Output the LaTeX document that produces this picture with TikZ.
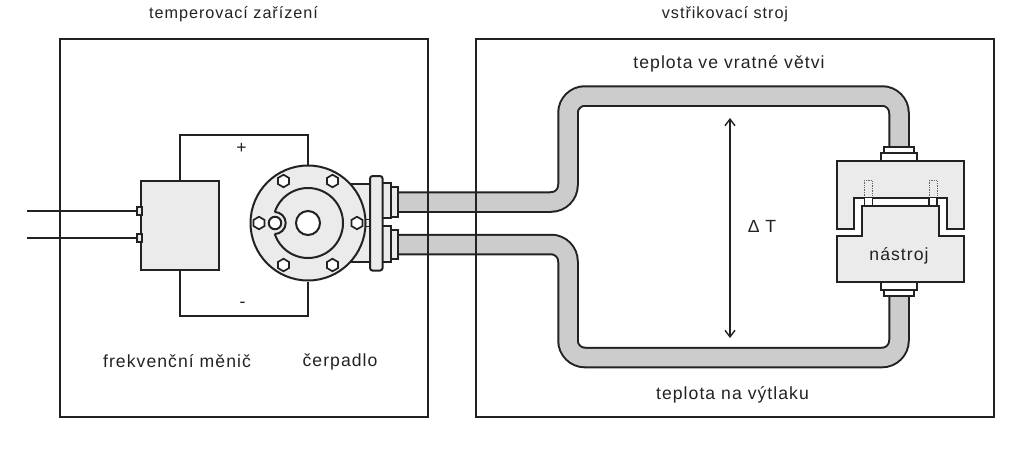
\documentclass[tikz,border=0pt]{standalone}
\usepackage{fontspec}
\setmainfont[LetterSpace=6]{Liberation Sans}
\usepackage{tikz}
\usetikzlibrary{arrows.meta}
\usetikzlibrary{shapes.geometric}
\usepackage{xcolor}
\definecolor{ColLine}{RGB}{34,34,34}
\definecolor{ColPart}{RGB}{235,235,235}
\definecolor{ColPipe}{RGB}{204,204,204}
\tikzstyle{FrameBox}=[rectangle,draw=ColLine,line width=2pt,inner sep=0pt]
\tikzstyle{PartBox}=[rectangle,draw=ColLine,fill=ColPart,line width=2pt,inner sep=0pt]
\tikzstyle{WhiteBox}=[rectangle,draw=ColLine,fill=white,line width=1.8pt,inner sep=0pt]
\tikzstyle{NutGraph}=[regular polygon,regular polygon sides=6,shape border rotate=30,draw=ColLine,fill=white,line width=1.7pt,inner sep=0pt,minimum size=12.5pt]
\tikzstyle{HoleGraph}=[circle,draw=ColLine,fill=white,line width=2pt,inner sep=0pt]
\tikzstyle{WireEdge}=[ColLine,line width=2pt]
\tikzstyle{LeadEdge}=[ColLine,line width=1.4pt]
\tikzstyle{PipeEdge}=[draw=ColLine,line width=2pt,double=ColPipe,double distance=17.5pt,rounded corners=17pt]
\tikzstyle{PartPath}=[draw=ColLine,fill=ColPart,line width=2pt]
\tikzstyle{TitleText}=[font=\fontsize{16.2}{19}\selectfont,text=ColLine,inner sep=0pt]
\tikzstyle{LabelText}=[font=\fontsize{17.6}{21}\selectfont,text=ColLine,inner sep=0pt]
\begin{document}
\begin{tikzpicture}[x=1pt,y=-1pt]
        \useasboundingbox(0,0)rectangle(1032,452);
        \coordinate(UpperStart)at(397,202);
        \coordinate(UpperA)at(568,202);
        \coordinate(UpperB)at(568,96);
        \coordinate(UpperC)at(899,96);
        \coordinate(UpperEnd)at(899,148);
        \coordinate(LowerStart)at(397,244.5);
        \coordinate(LowerA)at(568,244.5);
        \coordinate(LowerB)at(568,357.5);
        \coordinate(LowerC)at(899,357.5);
        \coordinate(LowerEnd)at(899,295);
        \draw[PipeEdge](UpperStart)--(UpperA)--(UpperB)--(UpperC)--(UpperEnd);
        \draw[PipeEdge](LowerStart)--(LowerA)--(LowerB)--(LowerC)--(LowerEnd);
        \node[FrameBox,minimum width=368pt,minimum height=378pt](TempFrame)at(244,228){};
        \node[FrameBox,minimum width=518pt,minimum height=378pt](MachineFrame)at(735,228){};
        \node[PartBox,minimum width=78pt,minimum height=89pt](Converter)at(180.2,225.5){};
        \node[WhiteBox,fill=ColPart,minimum width=4.5pt,minimum height=8pt](TermA)at(139.5,211){};
        \node[WhiteBox,fill=ColPart,minimum width=4.5pt,minimum height=8pt](TermB)at(139.5,238){};
        \coordinate(LeadA)at(27,211);
        \coordinate(LeadB)at(27,238);
        \draw[LeadEdge](LeadA)--(TermA);
        \draw[LeadEdge](LeadB)--(TermB);
        \node[PartBox,minimum width=40pt,minimum height=78.5pt](Housing)at(352,223){};
        \node[WhiteBox,fill=ColPart,minimum width=5pt,minimum height=7pt](Link)at(368,223){};
        \node[PartBox,circle,minimum size=115pt](Pump)at(308,223){};
        \coordinate(CornerTop)at(308,135);
        \coordinate(CornerBottom)at(308,315.5);
        \draw[WireEdge](Converter.north)|-(CornerTop)--(Pump.north);
        \draw[WireEdge](Converter.south)|-(CornerBottom)--(Pump.south);
        \draw[WireEdge]([shift={(-162:35)}]308,223)arc[start angle=-162,end angle=162,radius=35];
        \draw[WireEdge](274.7,212)arc[start angle=-90,end angle=90,radius=11];
        \node[HoleGraph,minimum size=24pt](Shaft)at(308,223){};
        \node[HoleGraph,minimum size=12.5pt](Bypass)at(275,223){};
        \node[NutGraph](NutA)at(357,223){};
        \node[NutGraph](NutB)at(332.5,181){};
        \node[NutGraph](NutC)at(283.5,181){};
        \node[NutGraph](NutD)at(259,223){};
        \node[NutGraph](NutE)at(283.5,265){};
        \node[NutGraph](NutF)at(332.5,265){};
        \node[PartBox,minimum width=7pt,minimum height=29.5pt](NeckA)at(394,202){};
        \node[PartBox,minimum width=7pt,minimum height=29.5pt](NeckB)at(394,244.5){};
        \node[PartBox,minimum width=8.5pt,minimum height=35pt](CollarA)at(386.5,200.5){};
        \node[PartBox,minimum width=8.5pt,minimum height=36pt](CollarB)at(386.5,244){};
        \node[PartBox,rounded corners=2.5pt,minimum width=12.5pt,minimum height=94.5pt](Flange)at(376.3,223.3){};
        \draw[PartPath](836.7,161)--(964,161)--(964,229.3)--(946.7,229.3)--(946.7,197.7)--(854,197.7)--(854,229.3)--(836.7,229.3)--cycle;
        \draw[PartPath](837,236)--(861.7,236)--(861.7,205.7)--(939,205.7)--(939,236)--(964,236)--(964,281.7)--(837,281.7)--cycle;
        \draw[ColLine!70,line width=.7pt,densely dotted](864.3,197.7)--(864.3,180.7)--(872.3,180.7)--(872.3,197.7);
        \draw[ColLine!70,line width=.7pt,densely dotted](929,197.7)--(929,180.7)--(937,180.7)--(937,197.7);
        \node[WhiteBox,line width=1.5pt,minimum width=8pt,minimum height=8pt](PinA)at(868.3,201.7){};
        \node[WhiteBox,line width=1.5pt,minimum width=8pt,minimum height=8pt](PinB)at(933,201.7){};
        \node[WhiteBox,minimum width=36pt,minimum height=7.7pt](SeatA)at(899,157.2){};
        \node[WhiteBox,minimum width=29.7pt,minimum height=6pt](CapA)at(899,150.3){};
        \node[WhiteBox,minimum width=36pt,minimum height=8.3pt](SeatB)at(899,285.9){};
        \node[WhiteBox,minimum width=29.7pt,minimum height=5.7pt](CapB)at(899,292.9){};
        \coordinate(DeltaTop)at(730,118);
        \coordinate(DeltaBottom)at(730,338);
        \draw[LeadEdge,{Straight Barb[length=6.5pt,width=10pt]}-{Straight Barb[length=6.5pt,width=10pt]}](DeltaTop)--(DeltaBottom);
        \node[TitleText](TempLabel)at(233.5,14){temperovací zařízení};
        \node[TitleText](MachineLabel)at(725,14){vstřikovací stroj};
        \node[LabelText](ReturnLabel)at(729,63.5){teplota ve vratné větvi};
        \node[LabelText](SupplyLabel)at(732.5,394.5){teplota na výtlaku};
        \node[LabelText](ConverterLabel)at(177,361){frekvenční měnič};
        \node[LabelText](PumpLabel)at(340,361.5){čerpadlo};
        \node[LabelText](ToolLabel)at(899,256){nástroj};
        \node[LabelText](DeltaLabel)at(762,226){Δ T};
        \node[LabelText](PlusLabel)at(241.5,148){+};
        \node[LabelText](MinusLabel)at(242.5,305){-};
    \end{tikzpicture}
\end{document}
